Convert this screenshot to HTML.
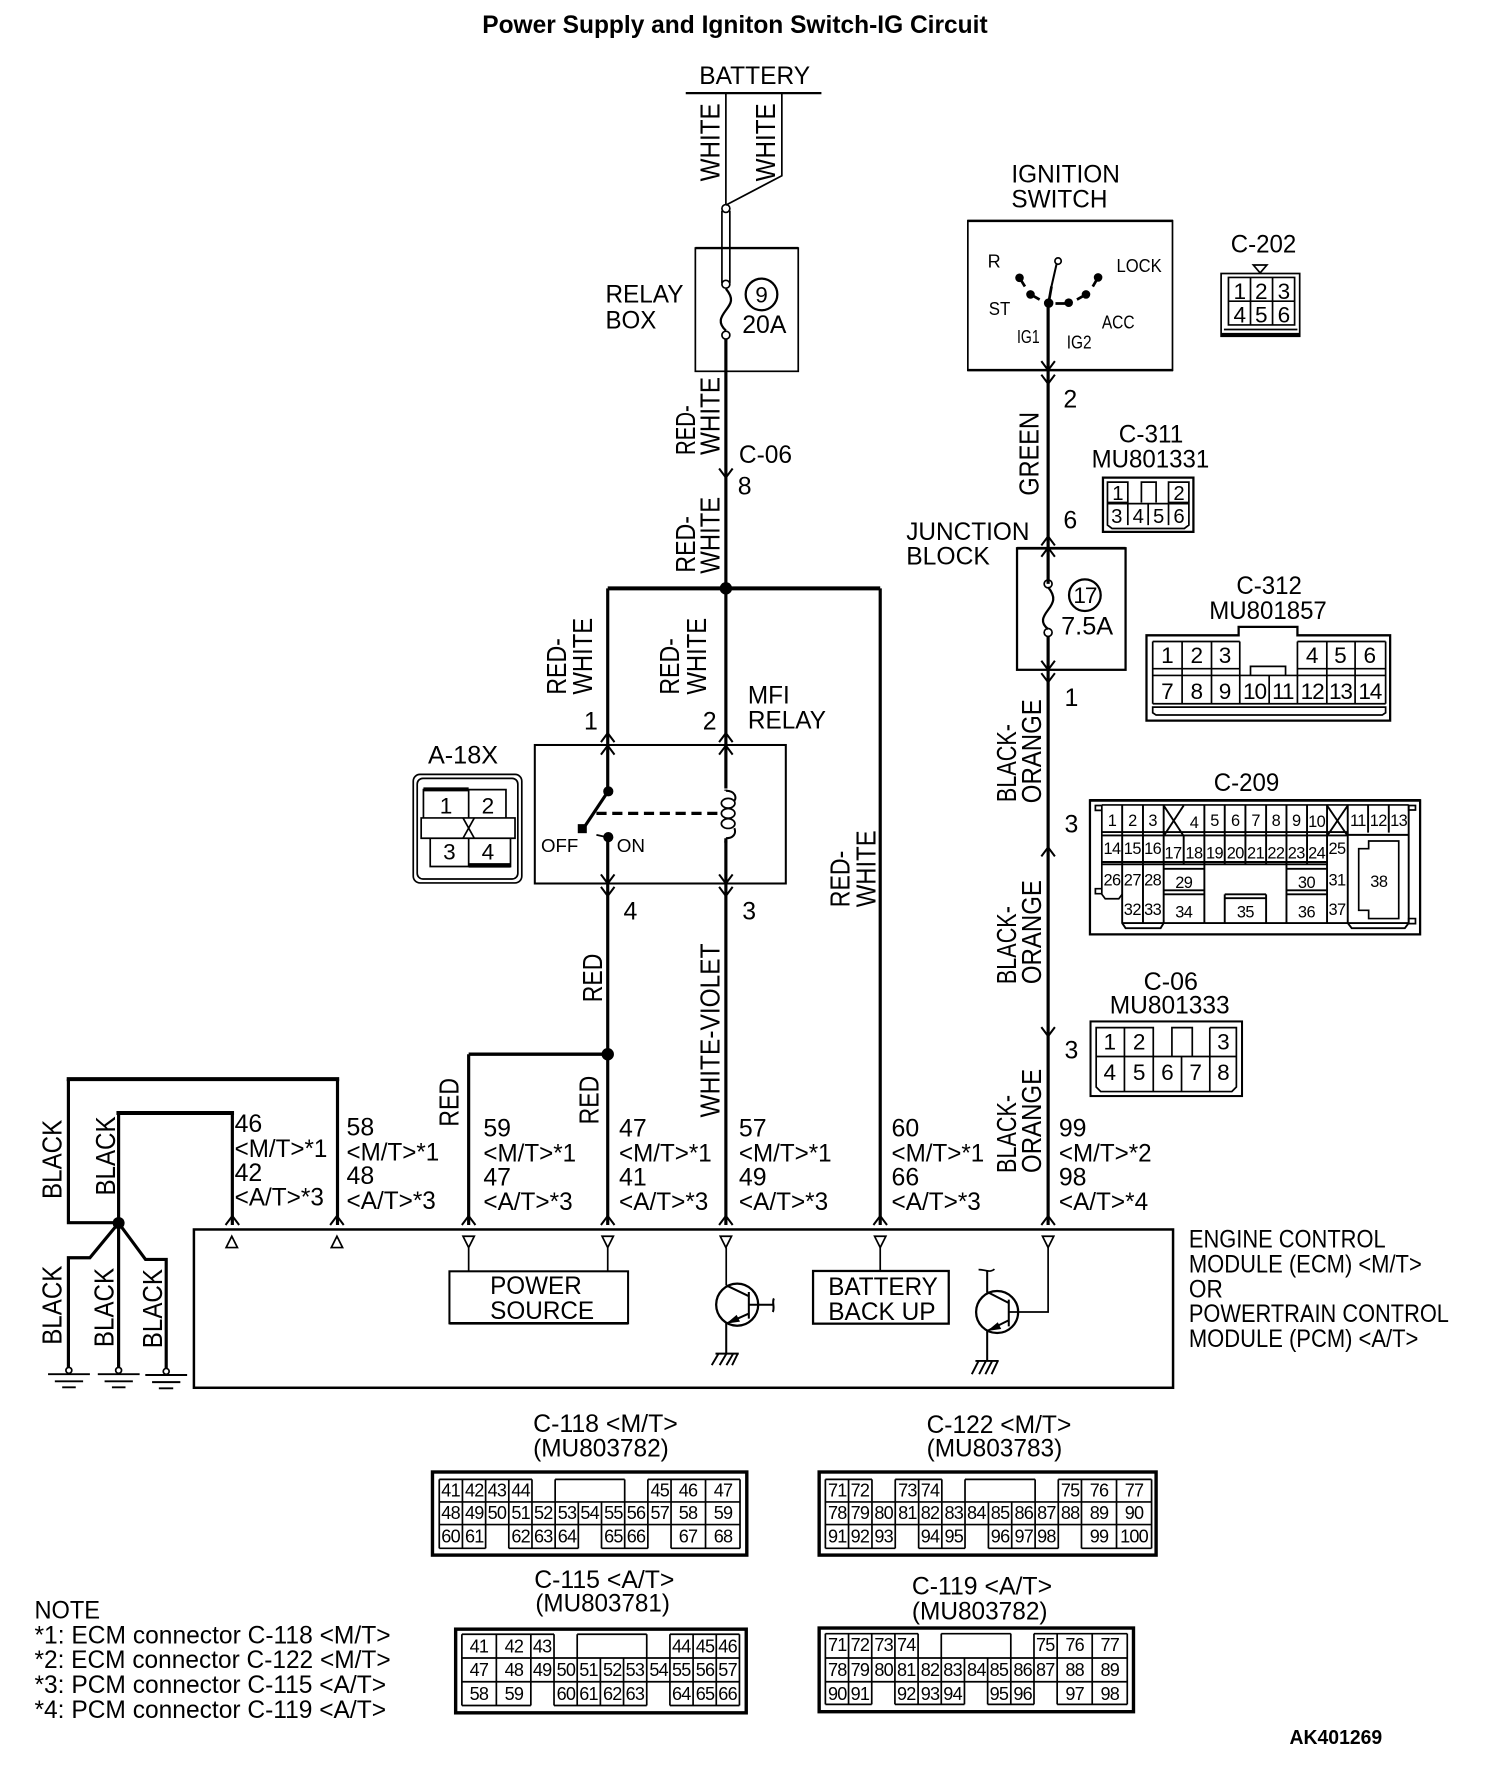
<!DOCTYPE html>
<html><head><meta charset="utf-8"><title>Power Supply and Igniton Switch-IG Circuit</title>
<style>
html,body{margin:0;padding:0;background:#fff}
svg{display:block}
text{font-family:"Liberation Sans",sans-serif;fill:#000;font-size:22px}
.r{font-size:24.5px}
.s{font-size:16px}
.c{font-size:16px;text-anchor:middle;letter-spacing:-.7px}
.d{font-size:20px;text-anchor:middle}
.e{font-size:14.5px;text-anchor:middle;letter-spacing:-.5px}
.w{fill:none;stroke:#000;stroke-width:2.8}
.t{fill:none;stroke:#000;stroke-width:1.5}
.k{fill:none;stroke:#000;stroke-width:3.6}
</style></head><body>
<svg xmlns="http://www.w3.org/2000/svg" width="1504" height="1774" viewBox="-0.4 -0.4 1330 1569">
<defs>
<path id="a" d="M-6 8L0 0L6 8" fill="none" stroke="#000" stroke-width="1.8"/>
<path id="b" d="M-6 -8L0 0L6 -8" fill="none" stroke="#000" stroke-width="1.8"/>
</defs>

<text x="426" y="29" style="font-size:22px;font-weight:bold" textLength="447" lengthAdjust="spacingAndGlyphs">Power Supply and Igniton Switch-IG Circuit</text>

<!-- battery -->
<text x="618" y="74" textLength="98" lengthAdjust="spacingAndGlyphs">BATTERY</text>
<path class="t" style="stroke-width:2" d="M606 82H726"/>
<path class="t" d="M641.500 82V181M691 82V155L641.500 181"/>
<text class="r" transform="translate(636,160) rotate(-90)" textLength="69" lengthAdjust="spacingAndGlyphs">WHITE</text>
<text class="r" transform="translate(685,160) rotate(-90)" textLength="69" lengthAdjust="spacingAndGlyphs">WHITE</text>
<circle class="t" cx="641.500" cy="184" r="3.500" fill="#fff"/>
<path class="t" d="M638 186V250M645 186V250"/>
<rect class="t" x="614.500" y="219" width="91" height="109"/>
<path class="t" d="M614.500 219H705.500" style="stroke-width:2"/>
<path class="t" style="stroke-width:2" d="M641.500 255C649 264 646 268 641.500 274C637 280 634 285 641.500 292"/>
<circle class="t" cx="641.500" cy="251" r="3.500" fill="#fff"/>
<circle class="t" cx="641.500" cy="296" r="3.500" fill="#fff"/>
<circle class="t" style="stroke-width:2" cx="673" cy="260" r="14"/>
<text class="d" x="673" y="267">9</text>
<text x="656" y="294" textLength="39" lengthAdjust="spacingAndGlyphs">20A</text>
<text x="535" y="267" textLength="69" lengthAdjust="spacingAndGlyphs">RELAY</text>
<text x="535" y="290" textLength="45" lengthAdjust="spacingAndGlyphs">BOX</text>

<path class="w" d="M641.500 299V1083"/>
<use href="#b" x="641.500" y="422"/>
<text class="r" transform="translate(614,402) rotate(-90)" textLength="44" lengthAdjust="spacingAndGlyphs">RED-</text>
<text class="r" transform="translate(636,402) rotate(-90)" textLength="69" lengthAdjust="spacingAndGlyphs">WHITE</text>
<text x="653" y="409" textLength="47" lengthAdjust="spacingAndGlyphs">C-06</text>
<text x="652" y="437">8</text>
<text class="r" transform="translate(614,506) rotate(-90)" textLength="50" lengthAdjust="spacingAndGlyphs">RED-</text>
<text class="r" transform="translate(636,507) rotate(-90)" textLength="68" lengthAdjust="spacingAndGlyphs">WHITE</text>

<!-- bus -->
<path class="k" d="M537 520H778"/>
<circle cx="641.500" cy="520" r="5.500"/>
<path class="w" d="M537 520V699M537 741V1083M778 520V1083"/>
<text class="r" transform="translate(500,614) rotate(-90)" textLength="50" lengthAdjust="spacingAndGlyphs">RED-</text>
<text class="r" transform="translate(523,614) rotate(-90)" textLength="68" lengthAdjust="spacingAndGlyphs">WHITE</text>
<text class="r" transform="translate(600,614) rotate(-90)" textLength="50" lengthAdjust="spacingAndGlyphs">RED-</text>
<text class="r" transform="translate(624,614) rotate(-90)" textLength="68" lengthAdjust="spacingAndGlyphs">WHITE</text>
<text class="r" transform="translate(751,802) rotate(-90)" textLength="50" lengthAdjust="spacingAndGlyphs">RED-</text>
<text class="r" transform="translate(774,802) rotate(-90)" textLength="68" lengthAdjust="spacingAndGlyphs">WHITE</text>
<text x="516" y="645">1</text>
<text x="621" y="645">2</text>
<text x="661" y="622" textLength="37" lengthAdjust="spacingAndGlyphs">MFI</text>
<text x="661" y="644" textLength="69" lengthAdjust="spacingAndGlyphs">RELAY</text>

<!-- relay -->
<rect class="t" style="stroke-width:1.800" x="472.500" y="658.500" width="222" height="122.500"/>
<use href="#a" x="537" y="648"/><use href="#a" x="537" y="659"/>
<use href="#a" x="641.500" y="648"/><use href="#a" x="641.500" y="659"/>
<use href="#b" x="537" y="781"/><use href="#b" x="537" y="792"/>
<use href="#b" x="641.500" y="781"/><use href="#b" x="641.500" y="792"/>
<circle cx="537.500" cy="699.500" r="4.500"/>
<path class="w" d="M537 700L515 733"/>
<rect x="510.500" y="728.500" width="8" height="8"/>
<path class="w" d="M527 719H636" stroke-dasharray="9 5"/>
<circle cx="537.500" cy="740" r="4.500"/>
<path class="t" d="M527 738L536 740"/>
<rect x="636" y="697" width="12" height="46" fill="#fff"/>
<path class="t" style="stroke-width:1.800" d="M641.500 699C650 699 651 705 649 708M649 732C651 737 648 741 641.500 741"/>
<ellipse class="t" cx="643.500" cy="710" rx="6" ry="4.300"/>
<ellipse class="t" cx="643.500" cy="719" rx="6" ry="4.300"/>
<ellipse class="t" cx="643.500" cy="728" rx="6" ry="4.300"/>
<path class="w" d="M641.500 698V699M641.500 741V745"/>
<text class="s" x="478" y="753" textLength="33" lengthAdjust="spacingAndGlyphs">OFF</text>
<text class="s" x="545" y="753" textLength="25" lengthAdjust="spacingAndGlyphs">ON</text>
<text x="551" y="813">4</text>
<text x="656" y="813">3</text>

<!-- A-18X -->
<text x="378" y="675" textLength="62" lengthAdjust="spacingAndGlyphs">A-18X</text>
<rect class="t" x="365" y="684.500" width="96" height="96" rx="6"/>
<rect class="t" x="368.500" y="688" width="89" height="89" rx="5"/>
<path class="t" d="M374 723V698H447V723M414 698V723M380 741V766H451V741M414 741V766M372 723H455V741H372Z"/>
<path d="M374 696h40v3.500h-40zM414 763h37v4h-37z"/>
<path class="t" d="M409 723L419 741M419 723L409 741"/>
<text class="d" x="394" y="719">1</text><text class="d" x="431" y="719">2</text>
<text class="d" x="397" y="760">3</text><text class="d" x="431" y="760">4</text>

<text class="r" transform="translate(532,886) rotate(-90)" textLength="43" lengthAdjust="spacingAndGlyphs">RED</text>
<text class="r" transform="translate(636,988) rotate(-90)" textLength="154" lengthAdjust="spacingAndGlyphs">WHITE-VIOLET</text>
<circle cx="537" cy="932" r="5.500"/>
<path class="k" style="stroke-width:3" d="M537 932H414"/>
<path class="w" d="M414 932V1083"/>
<text class="r" transform="translate(405,996) rotate(-90)" textLength="43" lengthAdjust="spacingAndGlyphs">RED</text>
<text class="r" transform="translate(529,994) rotate(-90)" textLength="43" lengthAdjust="spacingAndGlyphs">RED</text>

<!-- ignition -->
<text x="894" y="161" textLength="96" lengthAdjust="spacingAndGlyphs">IGNITION</text>
<text x="894" y="183" textLength="85" lengthAdjust="spacingAndGlyphs">SWITCH</text>
<rect class="t" x="855.500" y="195" width="181" height="132"/>
<path class="t" style="stroke-width:2.200" d="M855 327H1037M855 195H1037"/>
<text class="s" x="873" y="236">R</text>
<text class="s" x="987" y="240" textLength="40" lengthAdjust="spacingAndGlyphs">LOCK</text>
<text class="s" x="874" y="278" textLength="19" lengthAdjust="spacingAndGlyphs">ST</text>
<text class="s" x="974" y="290" textLength="29" lengthAdjust="spacingAndGlyphs">ACC</text>
<text class="s" x="899" y="303" textLength="20" lengthAdjust="spacingAndGlyphs">IG1</text>
<text class="s" x="943" y="308" textLength="22" lengthAdjust="spacingAndGlyphs">IG2</text>
<circle class="t" cx="935.300" cy="230.500" r="2.800"/>
<path class="t" style="stroke-width:1.800" d="M929 255L934 233"/>
<path class="w" style="stroke-width:2.400" d="M927 267L929.500 253M901 245L906 253M911 260L919 264.500M933 268H944.500M960 260L952 264.500M970.700 245L966 253"/>
<circle cx="901.200" cy="245.300" r="3.800"/><circle cx="910.900" cy="260" r="3.800"/>
<circle cx="927" cy="267.700" r="4.200"/><circle cx="944.700" cy="267.300" r="3.800"/>
<circle cx="960" cy="260" r="3.800"/><circle cx="970.700" cy="245" r="3.800"/>
<path class="w" d="M926.500 268V516M926.500 562V1083"/>
<use href="#b" x="926.500" y="327"/><use href="#b" x="926.500" y="339"/>
<text x="940" y="360">2</text>
<text class="r" transform="translate(918,438) rotate(-90)" textLength="74" lengthAdjust="spacingAndGlyphs">GREEN</text>

<!-- C-202 -->
<text x="1088" y="223" textLength="58" lengthAdjust="spacingAndGlyphs">C-202</text>
<path class="t" d="M1108 234H1120L1114 241Z"/>
<rect class="t" x="1079.500" y="241.500" width="69.500" height="55.500"/>
<path class="t" d="M1086 245H1144.500V287H1086ZM1086 266H1144.500M1105.500 245V287M1125 245V287M1082 291H1147"/>
<path d="M1079 294h70v3.500h-70z"/>
<text class="d" x="1096" y="264">1</text><text class="d" x="1115" y="264">2</text><text class="d" x="1135" y="264">3</text>
<text class="d" x="1096" y="285">4</text><text class="d" x="1115" y="285">5</text><text class="d" x="1135" y="285">6</text>

<!-- C-311 -->
<text x="989" y="391" textLength="57" lengthAdjust="spacingAndGlyphs">C-311</text>
<text x="965" y="413" textLength="104" lengthAdjust="spacingAndGlyphs">MU801331</text>
<path class="t" style="stroke-width:2" d="M975 422H1055V470H975Z"/>
<path class="t" d="M979 426H997V444H979ZM1033 426H1051V444H1033ZM979 445H1051V464L1047 467H983L979 464ZM997 445V464M1015 445V464M1033 445V464M1009 444V426H1022V444"/>
<text class="e" style="font-size:18px" x="988" y="442">1</text><text class="e" style="font-size:18px" x="1042" y="442">2</text>
<text class="e" style="font-size:18px" x="987" y="462">3</text><text class="e" style="font-size:18px" x="1006" y="462">4</text>
<text class="e" style="font-size:18px" x="1024" y="462">5</text><text class="e" style="font-size:18px" x="1042" y="462">6</text>

<!-- Junction block -->
<text x="801" y="477" textLength="109" lengthAdjust="spacingAndGlyphs">JUNCTION</text>
<text x="801" y="499" textLength="74" lengthAdjust="spacingAndGlyphs">BLOCK</text>
<text x="940" y="467">6</text>
<rect class="t" style="stroke-width:2" x="899" y="484.500" width="96" height="107.500"/>
<path class="k" style="stroke-width:2.400" d="M899 484.500H995"/>
<use href="#a" x="926.500" y="474"/><use href="#a" x="926.500" y="484"/>
<path class="t" style="stroke-width:2" d="M926.500 519C934 528 931 533 926.500 539C922 545 919 550 926.500 556"/>
<circle class="t" cx="926.500" cy="516" r="3.500" fill="#fff"/>
<circle class="t" cx="926.500" cy="559" r="3.500" fill="#fff"/>
<circle class="t" style="stroke-width:2" cx="959" cy="526" r="14"/>
<text class="d" style="letter-spacing:-1px" x="959" y="533">17</text>
<text x="938" y="561" textLength="46" lengthAdjust="spacingAndGlyphs">7.5A</text>
<use href="#b" x="926.500" y="592"/><use href="#b" x="926.500" y="603"/>
<text x="941" y="624">1</text>
<text class="r" transform="translate(898,709) rotate(-90)" textLength="69" lengthAdjust="spacingAndGlyphs">BLACK-</text>
<text class="r" transform="translate(920,710) rotate(-90)" textLength="92" lengthAdjust="spacingAndGlyphs">ORANGE</text>
<text x="941" y="736">3</text>
<use href="#a" x="926.500" y="749"/>
<text class="r" transform="translate(898,870) rotate(-90)" textLength="69" lengthAdjust="spacingAndGlyphs">BLACK-</text>
<text class="r" transform="translate(920,870) rotate(-90)" textLength="92" lengthAdjust="spacingAndGlyphs">ORANGE</text>
<use href="#b" x="926.500" y="916"/>
<text x="941" y="936">3</text>
<text class="r" transform="translate(898,1037) rotate(-90)" textLength="69" lengthAdjust="spacingAndGlyphs">BLACK-</text>
<text class="r" transform="translate(920,1037) rotate(-90)" textLength="92" lengthAdjust="spacingAndGlyphs">ORANGE</text>

<!-- C-312 -->
<text x="1093" y="525" textLength="58" lengthAdjust="spacingAndGlyphs">C-312</text>
<text x="1069" y="547" textLength="104" lengthAdjust="spacingAndGlyphs">MU801857</text>
<path class="t" style="stroke-width:2" d="M1013.500 561.500H1095V554H1147V561.500H1229V637H1013.500Z"/>
<path class="t" d="M1019 567H1096M1147 567H1225M1019 567V622M1045 567V622M1071 567V622M1096 567V622M1122 597V622M1147 567V622M1173 567V622M1198 567V622M1225 567V622M1019 591H1096M1019 597H1225M1147 591H1225M1105.500 597V589H1136.500V597M1019 622H1225M1019 625H1225V630L1222 632H1022L1019 630Z"/>
<text class="d" x="1032" y="586">1</text><text class="d" x="1058" y="586">2</text><text class="d" x="1083" y="586">3</text>
<text class="d" x="1160" y="586">4</text><text class="d" x="1185" y="586">5</text><text class="d" x="1211" y="586">6</text>
<text class="d" x="1032" y="618">7</text><text class="d" x="1058" y="618">8</text><text class="d" x="1083" y="618">9</text>
<g style="letter-spacing:-1px"><text class="d" x="1109" y="618">10</text><text class="d" x="1134" y="618">11</text><text class="d" x="1160" y="618">12</text><text class="d" x="1185" y="618">13</text><text class="d" x="1211" y="618">14</text></g>

<!-- C-209 -->
<text x="1073" y="699" textLength="58" lengthAdjust="spacingAndGlyphs">C-209</text>
<rect class="t" style="stroke-width:2" x="963.500" y="707.500" width="292" height="118.500"/>
<path class="k" style="stroke-width:2.400" d="M963 707.500H1256"/>
<path class="t" d="M974 711.500H1245.400M974 711.500V790.500L977 794.500H989L992 790.500M968.300 712H974V716.300H968.300ZM968.300 785.600H974V790H968.300ZM1245.400 712H1251.400V716H1245.400ZM1245.400 812H1251.400V816.500H1245.400Z"/>
<path class="t" style="stroke-width:1.700" d="M974 735.500H1191.500M974 738.500H1191.500M974 762H1173.200M974 764H1173.200M992 711.500V816L995 820.500H1026L1028.700 816M1010.400 711.500V816M1028.700 711.500V816M1046.400 739V764M1064.700 711.500V816M1082.700 711.500V764M1101 711.500V764M1119.300 711.500V764M1137.300 711.500V816M1155.500 711.500V764M1173.200 711.500V816M1191.500 711.500V816M1209.500 711.500V736M1227.800 711.500V736M1245.400 711.500V816M1191.500 738H1245.400M992 816H1064.700M1137.300 816H1245.400M1028.700 768H1064.700M1137.300 768H1173.200M1028.700 787H1064.700M1028.700 790.600H1064.700M1137.300 787H1173.200M1137.300 790.600H1173.200M1082.700 790.600V816M1119.300 790.600V816M1082.700 790.600H1119.300M1082.700 794H1119.300M1064.700 816H1137.300M1191.500 816L1195 820.500H1242L1245.400 816M1028.700 712L1046.400 739M1046.400 712L1028.700 739M1173.200 712L1191.500 739M1191.500 712L1173.200 739"/>
<path class="t" d="M1210 743.400H1236.600V812H1210V804.700H1201.200V750.200H1210Z"/>
<text class="e" x="983" y="730">1</text><text class="e" x="1001" y="730">2</text><text class="e" x="1019" y="730">3</text><text class="e" x="1055.500" y="732">4</text><text class="e" x="1073.700" y="730">5</text><text class="e" x="1092" y="730">6</text><text class="e" x="1110" y="730">7</text><text class="e" x="1128" y="730">8</text><text class="e" x="1146" y="730">9</text><text class="e" x="1164" y="731">10</text><text class="e" x="1200.500" y="730">11</text><text class="e" x="1218.500" y="730">12</text><text class="e" x="1236.500" y="730">13</text>
<text class="e" x="983" y="755">14</text><text class="e" x="1001" y="755">15</text><text class="e" x="1019" y="755">16</text><text class="e" x="1037" y="759">17</text><text class="e" x="1055.500" y="759">18</text><text class="e" x="1073.700" y="759">19</text><text class="e" x="1092" y="759">20</text><text class="e" x="1110" y="759">21</text><text class="e" x="1128" y="759">22</text><text class="e" x="1146" y="759">23</text><text class="e" x="1164" y="759">24</text><text class="e" x="1182" y="755">25</text>
<text class="e" x="983" y="783">26</text><text class="e" x="1001" y="783">27</text><text class="e" x="1019" y="783">28</text><text class="e" x="1046.500" y="785">29</text><text class="e" x="1155" y="785">30</text><text class="e" x="1182" y="783">31</text>
<text class="e" x="1001" y="809">32</text><text class="e" x="1019" y="809">33</text><text class="e" x="1046.500" y="811">34</text><text class="e" x="1101" y="811">35</text><text class="e" x="1155" y="811">36</text><text class="e" x="1182" y="809">37</text>
<text class="e" x="1219" y="784">38</text>

<!-- C-06 connector -->
<text x="1011" y="875" textLength="48" lengthAdjust="spacingAndGlyphs">C-06</text>
<text x="981" y="896" textLength="106" lengthAdjust="spacingAndGlyphs">MU801333</text>
<rect class="t" style="stroke-width:1.800" x="964" y="903" width="134" height="66"/>
<path class="t" d="M969 934V908.500H1019.500V934M994 908.500V965M1019.500 934V965M1044.500 934V965M1069.500 908.500V965M1036 934V908.500H1054V934M1069.500 908.500H1093V961L1089 965H973L969 961V934H1093V908.500"/>
<text class="d" x="981" y="928">1</text><text class="d" x="1007" y="928">2</text><text class="d" x="1081.500" y="928">3</text>
<text class="d" x="981" y="955">4</text><text class="d" x="1007" y="955">5</text><text class="d" x="1032" y="955">6</text><text class="d" x="1057" y="955">7</text><text class="d" x="1081.500" y="955">8</text>

<!-- black wires -->
<path class="w" d="M60 954V1081H104M298 954V1083M104.400 984V1209M205 984V1083"/>
<path class="k" d="M58.500 954H299.500M102.500 984H206.500"/>
<circle cx="104.400" cy="1081.300" r="5.300"/>
<path class="w" d="M104.400 1081.300L79 1112H60V1209M104.400 1081.300L128.200 1113.500H146.500V1210"/>
<circle cx="60.400" cy="1211.600" r="2.600" fill="#fff" stroke="#000" stroke-width="1.500"/>
<circle cx="104.400" cy="1211.600" r="2.600" fill="#fff" stroke="#000" stroke-width="1.500"/>
<circle cx="146.500" cy="1212.500" r="2.600" fill="#fff" stroke="#000" stroke-width="1.500"/>
<path class="t" style="stroke-width:1.700" d="M42 1215H79M48 1221.300H73M54.500 1226.600H66.500M86 1215H123M92 1221.300H117M98.500 1226.600H110.500M128 1215.700H165M134 1222H159M140 1227.500H152.700"/>
<text class="r" transform="translate(54,1060) rotate(-90)" textLength="70" lengthAdjust="spacingAndGlyphs">BLACK</text>
<text class="r" transform="translate(101,1057) rotate(-90)" textLength="70" lengthAdjust="spacingAndGlyphs">BLACK</text>
<text class="r" transform="translate(54,1189) rotate(-90)" textLength="70" lengthAdjust="spacingAndGlyphs">BLACK</text>
<text class="r" transform="translate(100,1191) rotate(-90)" textLength="70" lengthAdjust="spacingAndGlyphs">BLACK</text>
<text class="r" transform="translate(143,1192) rotate(-90)" textLength="70" lengthAdjust="spacingAndGlyphs">BLACK</text>

<!-- pin labels -->
<text x="207" y="1001">46</text><text x="207" y="1023" textLength="82" lengthAdjust="spacingAndGlyphs">&lt;M/T&gt;*1</text><text x="207" y="1044">42</text><text x="207" y="1066" textLength="79" lengthAdjust="spacingAndGlyphs">&lt;A/T&gt;*3</text>
<text x="306" y="1004">58</text><text x="306" y="1026" textLength="82" lengthAdjust="spacingAndGlyphs">&lt;M/T&gt;*1</text><text x="306" y="1047">48</text><text x="306" y="1069" textLength="79" lengthAdjust="spacingAndGlyphs">&lt;A/T&gt;*3</text>
<text x="427" y="1005">59</text><text x="427" y="1027" textLength="82" lengthAdjust="spacingAndGlyphs">&lt;M/T&gt;*1</text><text x="427" y="1048">47</text><text x="427" y="1070" textLength="79" lengthAdjust="spacingAndGlyphs">&lt;A/T&gt;*3</text>
<text x="547" y="1005">47</text><text x="547" y="1027" textLength="82" lengthAdjust="spacingAndGlyphs">&lt;M/T&gt;*1</text><text x="547" y="1048">41</text><text x="547" y="1070" textLength="79" lengthAdjust="spacingAndGlyphs">&lt;A/T&gt;*3</text>
<text x="653" y="1005">57</text><text x="653" y="1027" textLength="82" lengthAdjust="spacingAndGlyphs">&lt;M/T&gt;*1</text><text x="653" y="1048">49</text><text x="653" y="1070" textLength="79" lengthAdjust="spacingAndGlyphs">&lt;A/T&gt;*3</text>
<text x="788" y="1005">60</text><text x="788" y="1027" textLength="82" lengthAdjust="spacingAndGlyphs">&lt;M/T&gt;*1</text><text x="788" y="1048">66</text><text x="788" y="1070" textLength="79" lengthAdjust="spacingAndGlyphs">&lt;A/T&gt;*3</text>
<text x="936" y="1005">99</text><text x="936" y="1027" textLength="82" lengthAdjust="spacingAndGlyphs">&lt;M/T&gt;*2</text><text x="936" y="1048">98</text><text x="936" y="1070" textLength="79" lengthAdjust="spacingAndGlyphs">&lt;A/T&gt;*4</text>

<!-- ECM -->
<rect class="t" style="stroke-width:2.200" x="171" y="1087" width="866" height="140"/>
<use href="#a" x="205" y="1075"/><use href="#a" x="297.500" y="1075"/><use href="#a" x="414" y="1075"/><use href="#a" x="537" y="1075"/><use href="#a" x="641.500" y="1075"/><use href="#a" x="778" y="1075"/><use href="#a" x="926.500" y="1075"/>
<path class="t" d="M204.500 1093L199.500 1103H209.500ZM297.500 1093L292.500 1103H302.500ZM409 1093H419L414 1103ZM532 1093H542L537 1103ZM636.500 1093H646.500L641.500 1103ZM773 1093H783L778 1103ZM921.500 1093H931.500L926.500 1103Z"/>
<path class="t" d="M414 1103V1124M537 1103V1124M778 1103V1124M641.800 1103V1136.400M926.500 1103V1160H892"/>
<rect class="t" style="stroke-width:1.800" x="397" y="1124" width="158" height="46"/>
<path class="k" style="stroke-width:2.400" d="M397 1170H555"/>
<text x="433" y="1144" textLength="81" lengthAdjust="spacingAndGlyphs">POWER</text>
<text x="433" y="1166" textLength="92" lengthAdjust="spacingAndGlyphs">SOURCE</text>
<rect class="t" style="stroke-width:2" x="718.600" y="1123.700" width="120" height="46.600"/>
<text x="732" y="1145" textLength="97" lengthAdjust="spacingAndGlyphs">BATTERY</text>
<text x="732" y="1167" textLength="95" lengthAdjust="spacingAndGlyphs">BACK UP</text>
<text x="1051" y="1103" textLength="174" lengthAdjust="spacingAndGlyphs">ENGINE CONTROL</text>
<text x="1051" y="1125" textLength="206" lengthAdjust="spacingAndGlyphs">MODULE (ECM) &lt;M/T&gt;</text>
<text x="1051" y="1147" textLength="30" lengthAdjust="spacingAndGlyphs">OR</text>
<text x="1051" y="1169" textLength="230" lengthAdjust="spacingAndGlyphs">POWERTRAIN CONTROL</text>
<text x="1051" y="1191" textLength="203" lengthAdjust="spacingAndGlyphs">MODULE (PCM) &lt;A/T&gt;</text>

<!-- transistors -->
<circle class="t" style="stroke-width:2" cx="651.500" cy="1153.500" r="18.600"/>
<path class="t" style="stroke-width:1.800" d="M641.800 1136.400L661.800 1146M661.800 1142.300V1165.800M661.800 1161.400L641.800 1170.300V1196.800M661.800 1153.600H683.900M684 1148C682 1151 685 1156 683 1160"/>
<path d="M641.800 1170.300L651 1162.500L654 1168.500Z"/>
<path class="t" style="stroke-width:1.700" d="M632.300 1196.800H652.900M635 1196.800L629 1207M642 1196.800L636 1207M648 1196.800L642 1207M652 1196.800L647 1207"/>
<circle class="t" style="stroke-width:2" cx="881.400" cy="1160" r="18.600"/>
<path class="t" style="stroke-width:1.800" d="M891.700 1149V1172.700M872.600 1123V1142.200L891.700 1152M891.700 1167.300L872.600 1176.800V1203.300"/>
<path d="M872.600 1176.800L882 1169L885 1175Z"/>
<path class="t" d="M865 1122.500C868 1122.500 869 1123 872 1123.500C875 1124 877 1124 879 1122"/>
<path class="t" style="stroke-width:1.700" d="M862.200 1203.300H882.800M865 1203.300L859 1215M871.500 1203.300L865.500 1215M877 1203.300L871 1215M882 1203.300L876.500 1215"/>

<!-- connector titles -->
<text x="471" y="1266" textLength="128" lengthAdjust="spacingAndGlyphs">C-118 &lt;M/T&gt;</text>
<text x="471" y="1288" textLength="120" lengthAdjust="spacingAndGlyphs">(MU803782)</text>
<text x="819" y="1267" textLength="128" lengthAdjust="spacingAndGlyphs">C-122 &lt;M/T&gt;</text>
<text x="819" y="1288" textLength="120" lengthAdjust="spacingAndGlyphs">(MU803783)</text>
<text x="472" y="1404" textLength="124" lengthAdjust="spacingAndGlyphs">C-115 &lt;A/T&gt;</text>
<text x="473" y="1425" textLength="119" lengthAdjust="spacingAndGlyphs">(MU803781)</text>
<text x="806" y="1410" textLength="124" lengthAdjust="spacingAndGlyphs">C-119 &lt;A/T&gt;</text>
<text x="806" y="1432" textLength="120" lengthAdjust="spacingAndGlyphs">(MU803782)</text>

<!-- C-118 grid -->
<rect class="t" style="stroke-width:3" x="382" y="1301.500" width="278" height="73.500"/>
<path class="t" d="M388 1308H470M490.500 1308H552M572.500 1308H654M388 1328H654M388 1348H654M388 1369H429M449.500 1369H511M531.500 1369H572.500M593 1369H654M388 1308V1369M408.500 1308V1369M429 1308V1369M449.500 1308V1369M470 1308V1369M490.500 1308V1369M511 1328V1369M531.500 1328V1369M552 1308V1369M572.500 1308V1369M593 1308V1369M623.500 1308V1369M654 1308V1369"/>
<text class="c" x="398" y="1323">41</text><text class="c" x="419" y="1323">42</text><text class="c" x="439" y="1323">43</text><text class="c" x="460" y="1323">44</text><text class="c" x="583" y="1323">45</text><text class="c" x="608" y="1323">46</text><text class="c" x="639" y="1323">47</text>
<text class="c" x="398" y="1343">48</text><text class="c" x="419" y="1343">49</text><text class="c" x="439" y="1343">50</text><text class="c" x="460" y="1343">51</text><text class="c" x="480" y="1343">52</text><text class="c" x="501" y="1343">53</text><text class="c" x="521" y="1343">54</text><text class="c" x="542" y="1343">55</text><text class="c" x="562" y="1343">56</text><text class="c" x="583" y="1343">57</text><text class="c" x="608" y="1343">58</text><text class="c" x="639" y="1343">59</text>
<text class="c" x="398" y="1364">60</text><text class="c" x="419" y="1364">61</text><text class="c" x="460" y="1364">62</text><text class="c" x="480" y="1364">63</text><text class="c" x="501" y="1364">64</text><text class="c" x="542" y="1364">65</text><text class="c" x="562" y="1364">66</text><text class="c" x="608" y="1364">67</text><text class="c" x="639" y="1364">68</text>

<!-- C-122 grid -->
<rect class="t" style="stroke-width:3" x="724" y="1301.500" width="298" height="73.500"/>
<path class="t" d="M729.500 1308H770.700M791.300 1308H832.500M853 1308H915M935.500 1308H1018M729.500 1328H1018M729.500 1348H1018M729.500 1369H791.300M812 1369H853M873.700 1369H935.500M956 1369H1018M729.500 1308V1369M750 1308V1369M770.700 1308V1369M791.300 1308V1369M812 1308V1369M832.500 1308V1369M853 1308V1369M873.700 1328V1369M894.300 1328V1369M915 1308V1369M935.500 1308V1369M956 1308V1369M987 1308V1369M1018 1308V1369"/>
<text class="c" x="740" y="1323">71</text><text class="c" x="760" y="1323">72</text><text class="c" x="802" y="1323">73</text><text class="c" x="822" y="1323">74</text><text class="c" x="946" y="1323">75</text><text class="c" x="971.500" y="1323">76</text><text class="c" x="1002.500" y="1323">77</text>
<text class="c" x="740" y="1343">78</text><text class="c" x="760" y="1343">79</text><text class="c" x="781" y="1343">80</text><text class="c" x="802" y="1343">81</text><text class="c" x="822" y="1343">82</text><text class="c" x="843" y="1343">83</text><text class="c" x="863" y="1343">84</text><text class="c" x="884" y="1343">85</text><text class="c" x="905" y="1343">86</text><text class="c" x="925" y="1343">87</text><text class="c" x="946" y="1343">88</text><text class="c" x="971.500" y="1343">89</text><text class="c" x="1002.500" y="1343">90</text>
<text class="c" x="740" y="1364">91</text><text class="c" x="760" y="1364">92</text><text class="c" x="781" y="1364">93</text><text class="c" x="822" y="1364">94</text><text class="c" x="843" y="1364">95</text><text class="c" x="884" y="1364">96</text><text class="c" x="905" y="1364">97</text><text class="c" x="925" y="1364">98</text><text class="c" x="971.500" y="1364">99</text><text class="c" x="1002.500" y="1364">100</text>

<!-- C-115 grid -->
<rect class="t" style="stroke-width:3" x="402.500" y="1440.500" width="257" height="74"/>
<path class="t" d="M408 1445H489.500M510 1445H571.500M592 1445H653.500M408 1466H653.500M408 1487H653.500M408 1508H469M489.500 1508H571.500M592 1508H653.500M408 1445V1508M438.500 1445V1508M469 1445V1508M489.500 1445V1508M510 1445V1508M530.500 1466V1508M551 1466V1508M571.500 1445V1508M592 1445V1508M612.500 1445V1508M633 1445V1508M653.500 1445V1508"/>
<text class="c" x="423" y="1461">41</text><text class="c" x="454" y="1461">42</text><text class="c" x="479" y="1461">43</text><text class="c" x="602" y="1461">44</text><text class="c" x="623" y="1461">45</text><text class="c" x="643" y="1461">46</text>
<text class="c" x="423" y="1482">47</text><text class="c" x="454" y="1482">48</text><text class="c" x="479" y="1482">49</text><text class="c" x="500" y="1482">50</text><text class="c" x="520" y="1482">51</text><text class="c" x="541" y="1482">52</text><text class="c" x="561" y="1482">53</text><text class="c" x="582" y="1482">54</text><text class="c" x="602" y="1482">55</text><text class="c" x="623" y="1482">56</text><text class="c" x="643" y="1482">57</text>
<text class="c" x="423" y="1503">58</text><text class="c" x="454" y="1503">59</text><text class="c" x="500" y="1503">60</text><text class="c" x="520" y="1503">61</text><text class="c" x="541" y="1503">62</text><text class="c" x="561" y="1503">63</text><text class="c" x="602" y="1503">64</text><text class="c" x="623" y="1503">65</text><text class="c" x="643" y="1503">66</text>

<!-- C-119 grid -->
<rect class="t" style="stroke-width:3" x="724" y="1439.500" width="278" height="74"/>
<path class="t" d="M729.500 1444.500H811.500M832 1444.500H893.500M914 1444.500H996.500M729.500 1466H996.500M729.500 1487H996.500M729.500 1507H770.500M791 1507H852.500M873 1507H914M934.500 1507H996.500M729.500 1444.500V1507M750 1444.500V1507M770.500 1444.500V1507M791 1444.500V1507M811.500 1444.500V1507M832 1444.500V1507M852.500 1466V1507M873 1466V1507M893.500 1444.500V1507M914 1444.500V1507M934.500 1444.500V1507M965.500 1444.500V1507M996.500 1444.500V1507"/>
<text class="c" x="740" y="1460">71</text><text class="c" x="760" y="1460">72</text><text class="c" x="781" y="1460">73</text><text class="c" x="801" y="1460">74</text><text class="c" x="924" y="1460">75</text><text class="c" x="950" y="1460">76</text><text class="c" x="981" y="1460">77</text>
<text class="c" x="740" y="1482">78</text><text class="c" x="760" y="1482">79</text><text class="c" x="781" y="1482">80</text><text class="c" x="801" y="1482">81</text><text class="c" x="822" y="1482">82</text><text class="c" x="842" y="1482">83</text><text class="c" x="863" y="1482">84</text><text class="c" x="883" y="1482">85</text><text class="c" x="904" y="1482">86</text><text class="c" x="924" y="1482">87</text><text class="c" x="950" y="1482">88</text><text class="c" x="981" y="1482">89</text>
<text class="c" x="740" y="1503">90</text><text class="c" x="760" y="1503">91</text><text class="c" x="801" y="1503">92</text><text class="c" x="822" y="1503">93</text><text class="c" x="842" y="1503">94</text><text class="c" x="883" y="1503">95</text><text class="c" x="904" y="1503">96</text><text class="c" x="950" y="1503">97</text><text class="c" x="981" y="1503">98</text>

<!-- Note -->
<text x="30" y="1431" textLength="58" lengthAdjust="spacingAndGlyphs">NOTE</text>
<text x="30" y="1453" textLength="315" lengthAdjust="spacingAndGlyphs">*1: ECM connector C-118 &lt;M/T&gt;</text>
<text x="30" y="1475" textLength="315" lengthAdjust="spacingAndGlyphs">*2: ECM connector C-122 &lt;M/T&gt;</text>
<text x="30" y="1497" textLength="311" lengthAdjust="spacingAndGlyphs">*3: PCM connector C-115 &lt;A/T&gt;</text>
<text x="30" y="1519" textLength="311" lengthAdjust="spacingAndGlyphs">*4: PCM connector C-119 &lt;A/T&gt;</text>
<text x="1140" y="1542" style="font-size:18px;font-weight:bold" textLength="82" lengthAdjust="spacingAndGlyphs">AK401269</text>
</svg>
</body></html>
